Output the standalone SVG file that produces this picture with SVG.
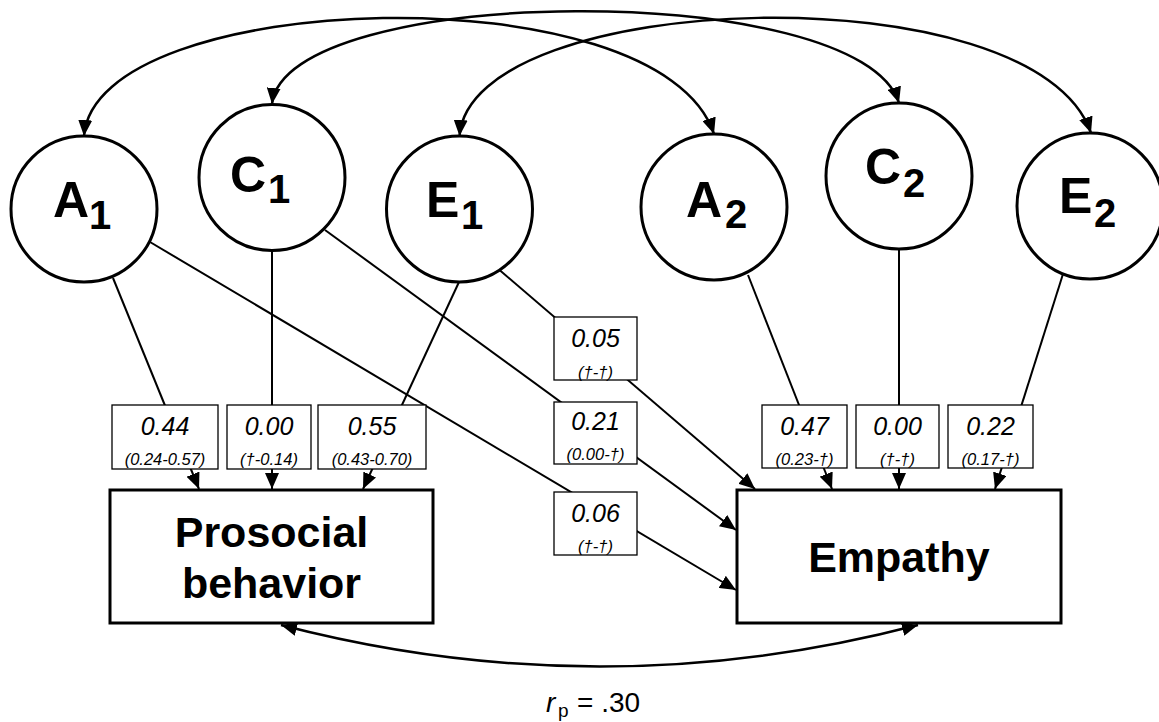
<svg xmlns="http://www.w3.org/2000/svg" width="1159" height="722" viewBox="0 0 1159 722">
<style>
.circ{fill:#fff;stroke:#000;stroke-width:3}
.main{fill:#fff;stroke:#000;stroke-width:3}
.lbl{fill:#fff;stroke:#000;stroke-width:1.3}
.ln{fill:none;stroke:#000;stroke-width:2}
.arc{fill:none;stroke:#000;stroke-width:2.5}
.big{font-family:"Liberation Sans",Arial,sans-serif;font-weight:bold;font-size:50px;fill:#000}
.sub{font-size:40px}
.node{font-family:"Liberation Sans",Arial,sans-serif;font-weight:bold;font-size:43px;fill:#000;text-anchor:middle}
.est{font-family:"Liberation Sans",Arial,sans-serif;font-style:italic;font-size:25px;fill:#000;text-anchor:middle}
.ci{font-family:"Liberation Sans",Arial,sans-serif;font-style:italic;font-size:16.5px;fill:#000;text-anchor:middle}
.rp{font-family:"Liberation Sans",Arial,sans-serif;font-size:28px;fill:#000}
</style>
<defs>
<marker id="ah" markerUnits="userSpaceOnUse" markerWidth="16" markerHeight="14" refX="16" refY="7" orient="auto-start-reverse" viewBox="0 0 16 14">
<path d="M0,0 L16,7 L0,14 z" fill="#000"/>
</marker>
</defs>
<rect width="1159" height="722" fill="#fff"/>
<g id="connectors">
<path class="arc" d="M84,136 C95,-12 660,-30 714,134" marker-start="url(#ah)" marker-end="url(#ah)"/>
<path class="arc" d="M272,104 C285,-17 860,-22 899,103" marker-start="url(#ah)" marker-end="url(#ah)"/>
<path class="arc" d="M459.5,136 C470.5,-12 1035.5,-30 1091,133" marker-start="url(#ah)" marker-end="url(#ah)"/>
<line class="ln" x1="113" y1="278" x2="199" y2="489" marker-end="url(#ah)"/>
<line class="ln" x1="150" y1="242" x2="736" y2="590" marker-end="url(#ah)"/>
<line class="ln" x1="272" y1="251" x2="272" y2="489" marker-end="url(#ah)"/>
<line class="ln" x1="325" y1="230" x2="736" y2="530" marker-end="url(#ah)"/>
<line class="ln" x1="459" y1="282" x2="363" y2="489" marker-end="url(#ah)"/>
<line class="ln" x1="499.5" y1="270" x2="755" y2="489" marker-end="url(#ah)"/>
<line class="ln" x1="748" y1="275" x2="832" y2="489" marker-end="url(#ah)"/>
<line class="ln" x1="899" y1="249" x2="899" y2="489" marker-end="url(#ah)"/>
<line class="ln" x1="1063" y1="274" x2="995" y2="489" marker-end="url(#ah)"/>
<path class="arc" d="M281,625 Q600,708 918,625" marker-start="url(#ah)" marker-end="url(#ah)"/>
</g>
<g id="A1"><circle class="circ" cx="84" cy="209" r="73"/><text class="big" x="53" y="217">A</text><text class="big sub" x="89" y="229">1</text></g>
<g id="C1"><circle class="circ" cx="272" cy="177.5" r="73"/><text class="big" x="230" y="192">C</text><text class="big sub" x="268" y="203">1</text></g>
<g id="E1"><circle class="circ" cx="459.5" cy="209" r="73"/><text class="big" x="426" y="217">E</text><text class="big sub" x="461" y="229">1</text></g>
<g id="A2"><circle class="circ" cx="714" cy="207" r="73"/><text class="big" x="686" y="217">A</text><text class="big sub" x="725" y="228">2</text></g>
<g id="C2"><circle class="circ" cx="899" cy="176" r="73"/><text class="big" x="865" y="184">C</text><text class="big sub" x="903" y="197">2</text></g>
<g id="E2"><circle class="circ" cx="1090" cy="206" r="73"/><text class="big" x="1059" y="213">E</text><text class="big sub" x="1094" y="227">2</text></g>
<g id="Prosocial"><rect class="main" x="110" y="490" width="323" height="133"/><text class="node" x="271.5" y="547">Prosocial</text><text class="node" x="271.5" y="598">behavior</text></g>
<g id="Empathy"><rect class="main" x="737" y="490" width="324" height="133"/><text class="node" x="899" y="572">Empathy</text></g>
<g id="lbl-a1-pro"><rect class="lbl" x="112" y="405" width="106" height="64"/><text class="est" x="165" y="435">0.44</text><text class="ci" x="165" y="465">(0.24-0.57)</text></g>
<g id="lbl-c1-pro"><rect class="lbl" x="227" y="405" width="84" height="64"/><text class="est" x="269" y="435">0.00</text><text class="ci" x="269" y="465">(†-0.14)</text></g>
<g id="lbl-e1-pro"><rect class="lbl" x="318" y="405" width="108" height="64"/><text class="est" x="372" y="435">0.55</text><text class="ci" x="372" y="465">(0.43-0.70)</text></g>
<g id="lbl-e1-emp"><rect class="lbl" x="554" y="317" width="83" height="63"/><text class="est" x="595.5" y="347">0.05</text><text class="ci" x="595.5" y="378">(†-†)</text></g>
<g id="lbl-c1-emp"><rect class="lbl" x="554" y="402" width="83" height="62"/><text class="est" x="595.5" y="430">0.21</text><text class="ci" x="595.5" y="460">(0.00-†)</text></g>
<g id="lbl-a1-emp"><rect class="lbl" x="554" y="492" width="83" height="63"/><text class="est" x="595.5" y="522">0.06</text><text class="ci" x="595.5" y="552">(†-†)</text></g>
<g id="lbl-a2-emp"><rect class="lbl" x="762" y="405" width="85" height="63"/><text class="est" x="804.5" y="435">0.47</text><text class="ci" x="804.5" y="465">(0.23-†)</text></g>
<g id="lbl-c2-emp"><rect class="lbl" x="856" y="405" width="83" height="63"/><text class="est" x="897.5" y="435">0.00</text><text class="ci" x="897.5" y="465">(†-†)</text></g>
<g id="lbl-e2-emp"><rect class="lbl" x="948" y="405" width="85" height="63"/><text class="est" x="990.5" y="435">0.22</text><text class="ci" x="990.5" y="465">(0.17-†)</text></g>
<g id="rp-label"><text class="rp" y="712"><tspan x="546" font-style="italic">r</tspan><tspan x="558" dy="5" font-size="19">p</tspan><tspan x="577" dy="-5">= .30</tspan></text></g>
</svg>
